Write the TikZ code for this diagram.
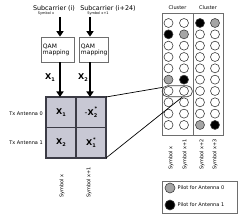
\documentclass[tikz,border=0pt]{standalone}
\usepackage{fontspec}
\setmainfont{DejaVu Sans}
\usetikzlibrary{arrows.meta}
\definecolor{cellfill}{RGB}{200,200,212}
\definecolor{gridline}{RGB}{60,60,70}
\definecolor{boxline}{RGB}{110,110,110}
\definecolor{pgray}{RGB}{165,165,165}
\newcommand{\fs}[1]{\fontsize{#1}{#1}\selectfont}
\newcommand{\Xsub}[1]{\textbf{X}\raisebox{-0.45ex}{\fs{5}\bfseries #1}}
\newcommand{\Xsubsup}[2]{\textbf{X}\raisebox{-0.45ex}{\fs{5}\bfseries #1}\kern-2.6pt\raisebox{1.0ex}{\fs{5}\bfseries #2}}
\begin{document}
\begin{tikzpicture}[x=1pt,y=-1pt,
  arr/.style={line width=2pt,-{Triangle[length=5.5pt,width=7pt]}},
  qam/.style={draw=boxline,line width=0.7pt,minimum width=33pt,minimum height=25pt,inner sep=2pt,text width=29pt,align=left,font=\fs{6}},
  cell/.style={fill=cellfill,draw=gridline,line width=1.3pt,minimum width=30pt,minimum height=30.5pt,inner sep=0pt,outer sep=0pt,font=\fs{8}},
  pilot/.style={circle,draw=black!75,line width=0.6pt,minimum size=9pt,inner sep=0pt},
  small/.style={font=\fs{5},inner sep=0pt},
  tiny/.style={font=\fs{3.5},inner sep=0pt},
  conn/.style={line width=0.7pt,black}]
\useasboundingbox (0,0) rectangle (250,219);
% top labels
\node[font=\fs{6.4},inner sep=0pt] (sc1) at (54,8.5) {Subcarrier (i)};
\node[font=\fs{6.4},inner sep=0pt] (sc2) at (108,8.5) {Subcarrier (i+24)};
\node[tiny] (sy1) at (46,14) {Symbol x};
\node[tiny] (sy2) at (98,14) {Symbol x+1};
% QAM boxes
\node[qam] (qam1) at (57.5,49.5) {QAM\\mapping};
\node[qam,minimum width=29pt,text width=25pt] (qam2) at (93.5,49.5) {QAM\\mapping};
\coordinate (a1) at (60,17);
\coordinate (a2) at (90,17);
\draw[arr] (a1) -- (a1 |- qam1.north);
\draw[arr] (a2) -- (a2 |- qam2.north);
% grid
\node[cell] (c00) at (61,112.25) {\Xsub{1}};
\node[cell] (c01) at (91,112.25) {-\Xsubsup{2}{*}};
\node[cell] (c10) at (61,142.75) {\Xsub{2}};
\node[cell] (c11) at (91,142.75) {\Xsubsup{1}{*}};
\draw[arr] (a1 |- qam1.south) -- (a1 |- c00.north);
\draw[arr] (a2 |- qam2.south) -- (a2 |- c01.north);
\node[font=\fs{8},inner sep=0pt] (x1) at (50,78) {\Xsub{1}};
\node[font=\fs{8},inner sep=0pt] (x2) at (83,78) {\Xsub{2}};
\node[small,anchor=east] (tx0) at (43,114) {Tx Antenna 0};
\node[small,anchor=east] (tx1) at (43,143) {Tx Antenna 1};
\node[small,anchor=west,rotate=90] (gs0) at (62,198) {Symbol x};
\node[small,anchor=west,rotate=90] (gs1) at (89,198) {Symbol x+1};
% clusters
\draw[boxline,line width=0.7pt] (162,13) rectangle (223,135);
\draw[boxline,line width=0.7pt] (193,13) -- (193,135);
\node[small] (cl1) at (177.5,8) {Cluster};
\node[small] (cl2) at (208,8) {Cluster};
\foreach \r in {0,...,9}{\foreach \c/\x in {0/168.5,1/184,2/200,3/215}{
  \def\f{white}
  \ifnum\r\c=10 \def\f{black}\fi
  \ifnum\r\c=11 \def\f{pgray}\fi
  \ifnum\r\c=50 \def\f{pgray}\fi
  \ifnum\r\c=51 \def\f{black}\fi
  \ifnum\r\c=2 \def\f{black}\fi
  \ifnum\r\c=3 \def\f{pgray}\fi
  \ifnum\r\c=92 \def\f{pgray}\fi
  \ifnum\r\c=93 \def\f{black}\fi
  \node[pilot,fill=\f] (p\r\c) at (\x,{23+\r*11.33}) {};
}}
\node[draw=black!75,line width=0.7pt,rounded corners=5pt,minimum width=30pt,minimum height=11pt,inner sep=0pt] (oval) at (177.3,91.3) {};
\draw[conn] (c01.north east) -- (oval.166);
\draw[conn] (c11.south east) -- (oval.-50);
\node[small,anchor=west,rotate=90] (cs0) at (171,170) {Symbol x};
\node[small,anchor=west,rotate=90] (cs1) at (185,170) {Symbol x+1};
\node[small,anchor=west,rotate=90] (cs2) at (202,170) {Symbol x+2};
\node[small,anchor=west,rotate=90] (cs3) at (215,170) {Symbol x+3};
% legend
\draw[boxline,line width=0.7pt] (162,181) rectangle (237,213);
\node[pilot,fill=pgray,minimum size=10pt] (lg0) at (170,188) {};
\node[pilot,fill=black,minimum size=10pt] (lg1) at (170,205) {};
\node[small,anchor=west] (lt0) at (177.5,188) {Pilot for Antenna 0};
\node[small,anchor=west] (lt1) at (177.5,205) {Pilot for Antenna 1};
\end{tikzpicture}
\end{document}
